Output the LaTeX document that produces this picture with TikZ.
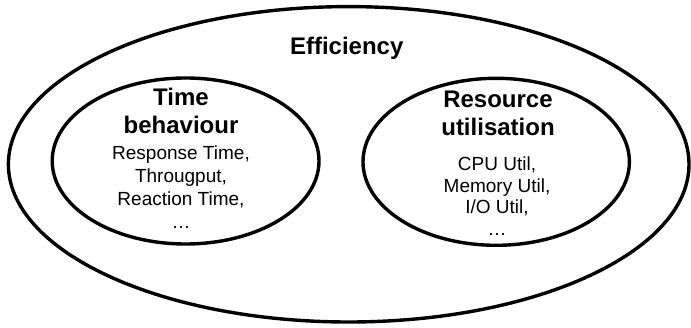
\documentclass[tikz,border=0pt]{standalone}
\usepackage{fontspec}
\setmainfont{Liberation Sans}
\usepackage{tikz}
\usetikzlibrary{shapes.geometric, positioning}

\begin{document}
\begin{tikzpicture}[x=1pt, y=1pt,
    ring/.style={ellipse, draw=black, line width=3.4pt, inner sep=0pt},
    heading/.style={anchor=base, align=center, font=\fontsize{24}{28}\selectfont\bfseries},
    items/.style={anchor=base, align=center, font=\fontsize{19}{23}\selectfont}]
  \useasboundingbox (0,0) rectangle (691,327);

  % outer set
  \node[ring, minimum width=680.6pt, minimum height=315.4pt] (efficiency) at (348.7,162.7) {};
  \node[heading] (efficiency-label) at (346.7,272) {Efficiency};

  % left subset (base anchor sits on the last line)
  \node[ring, minimum width=266.8pt, minimum height=166pt] (time) at (185.6,166) {};
  \node[heading] (time-label) at (181,193) {Time\\behaviour};
  \node[items] (time-items) at (181,98.7)
    {Response Time,\\Througput,\\Reaction Time,\\…};

  % right subset
  \node[ring, minimum width=266.4pt, minimum height=167pt] (resource) at (496.2,165.2) {};
  \node[heading] (resource-label) at (498,191.3) {Resource\\utilisation};
  \node[items, font=\fontsize{19}{21.8}\selectfont] (resource-items) at (497,91.3)
    {CPU Util,\\Memory Util,\\I/O Util,\\…};
\end{tikzpicture}
\end{document}
